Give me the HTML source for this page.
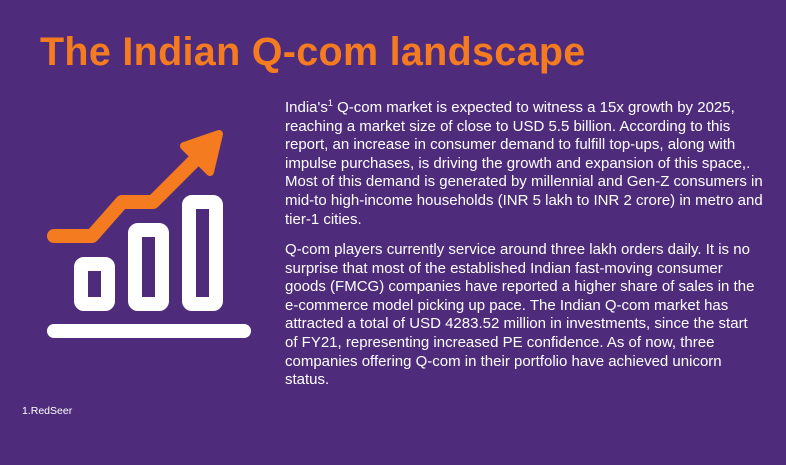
<!DOCTYPE html>
<html><head><meta charset="utf-8"><style>
html,body{margin:0;padding:0;}
body{width:786px;height:465px;background:#4f2c7b;position:relative;overflow:hidden;font-family:"Liberation Sans",sans-serif;color:#fff;}
h1{position:absolute;left:40px;top:30px;margin:0;font-size:39.5px;font-weight:bold;color:#f47b20;letter-spacing:0.3px;white-space:nowrap;}
.p{position:absolute;left:285px;font-size:15px;line-height:18.6px;white-space:nowrap;}
sup{font-size:9px;vertical-align:6px;line-height:0;}
.fn{position:absolute;left:22px;top:405px;font-size:10.5px;}
</style></head><body>
<h1>The Indian Q-com landscape</h1>
<svg style="position:absolute;left:0;top:0" width="260" height="360">
<g fill="none" stroke="#fff" stroke-width="14" stroke-linejoin="round">
<rect x="81" y="264" width="27" height="40" rx="3"/>
<rect x="135" y="230" width="27" height="74" rx="3"/>
<rect x="189" y="202" width="27" height="102" rx="3"/>
</g>
<line x1="54" y1="331" x2="244" y2="331" stroke="#fff" stroke-width="14" stroke-linecap="round"/>
<polyline points="54,236 92,236 122,202 153,202 200,155" fill="none" stroke="#f47b20" stroke-width="14" stroke-linecap="round" stroke-linejoin="round"/>
<polygon points="184,146 219,134 210,172" fill="#f47b20" stroke="#f47b20" stroke-width="8" stroke-linejoin="round"/>
</svg>
<div class="p" style="top:99px">India's<sup>1</sup> Q-com market is expected to witness a 15x growth by 2025,<br>reaching a market size of close to USD 5.5 billion. According to this<br>report, an increase in consumer demand to fulfill top-ups, along with<br>impulse purchases, is driving the growth and expansion of this space,.<br>Most of this demand is generated by millennial and Gen-Z consumers in<br>mid-to high-income households (INR 5 lakh to INR 2 crore) in metro and<br>tier-1 cities.</div>
<div class="p" style="top:241px">Q-com players currently service around three lakh orders daily. It is no<br>surprise that most of the established Indian fast-moving consumer<br>goods (FMCG) companies have reported a higher share of sales in the<br>e-commerce model picking up pace. The Indian Q-com market has<br>attracted a total of USD 4283.52 million in investments, since the start<br>of FY21, representing increased PE confidence. As of now, three<br>companies offering Q-com in their portfolio have achieved unicorn<br>status.</div>
<div class="fn">1.RedSeer</div>
</body></html>
